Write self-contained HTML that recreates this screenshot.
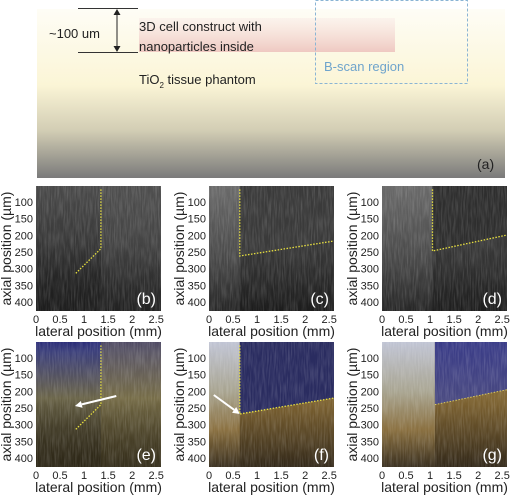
<!DOCTYPE html>
<html><head><meta charset="utf-8"><style>
html,body{margin:0;padding:0;background:#fff;}
svg{display:block;font-family:"Liberation Sans",sans-serif;}
</style></head><body>
<svg id="fig" width="512" height="496" viewBox="0 0 512 496" xmlns="http://www.w3.org/2000/svg">
<defs>
  <linearGradient id="gA" x1="0" y1="0" x2="0" y2="1">
    <stop offset="0" stop-color="#fefdf6"/><stop offset="0.45" stop-color="#fbf5d6"/>
    <stop offset="0.72" stop-color="#d2cdb4"/><stop offset="1" stop-color="#7a7a7a"/>
  </linearGradient>
  <linearGradient id="gPink" x1="0" y1="0" x2="0" y2="1">
    <stop offset="0" stop-color="#f6dede" stop-opacity="0.3"/><stop offset="1" stop-color="#eec6c0" stop-opacity="0.95"/>
  </linearGradient>
  <linearGradient id="gGray" x1="0" y1="0" x2="0" y2="1">
    <stop offset="0" stop-color="#4a4a4a"/><stop offset="0.6" stop-color="#333"/><stop offset="1" stop-color="#1c1c1c"/>
  </linearGradient>
  <linearGradient id="gGrayL" x1="0" y1="0" x2="0" y2="1">
    <stop offset="0" stop-color="#6a6a6a"/><stop offset="0.6" stop-color="#484848"/><stop offset="1" stop-color="#262626"/>
  </linearGradient>
  <linearGradient id="gCol" x1="0" y1="0" x2="0" y2="1">
    <stop offset="0" stop-color="#2a2c78"/><stop offset="0.08" stop-color="#3c407a"/><stop offset="0.45" stop-color="#6a6448"/><stop offset="1" stop-color="#2e2818"/>
  </linearGradient>
  <linearGradient id="gColL" x1="0" y1="0" x2="0" y2="1">
    <stop offset="0" stop-color="#c0c4d4"/><stop offset="0.4" stop-color="#a8a490"/><stop offset="0.7" stop-color="#8a7040"/><stop offset="1" stop-color="#3a3020"/>
  </linearGradient>
  <linearGradient id="gColD" x1="0" y1="0" x2="0" y2="1">
    <stop offset="0" stop-color="#3a3c88"/><stop offset="1" stop-color="#4a4a80"/>
  </linearGradient>
  <linearGradient id="gColB" x1="0" y1="0" x2="0" y2="1">
    <stop offset="0" stop-color="#a88a40"/><stop offset="0.5" stop-color="#7a6030"/><stop offset="1" stop-color="#33291a"/>
  </linearGradient>
  <linearGradient id="gShadeGray" x1="0" y1="0" x2="0" y2="1">
    <stop offset="0" stop-color="#1e1e1e" stop-opacity="0"/><stop offset="1" stop-color="#1e1e1e" stop-opacity="0.8"/>
  </linearGradient>
  <linearGradient id="gShadeCol" x1="0" y1="0" x2="0" y2="1">
    <stop offset="0" stop-color="#2e2818" stop-opacity="0"/><stop offset="1" stop-color="#2e2818" stop-opacity="0.8"/>
  </linearGradient>
  <filter id="noise" x="0" y="0" width="100%" height="100%">
    <feTurbulence type="fractalNoise" baseFrequency="0.7 0.06" numOctaves="2" seed="3"/>
    <feColorMatrix type="matrix" values="0 0 0 0 1  0 0 0 0 1  0 0 0 0 1  0 0 0 0.5 -0.18"/>
  </filter>
</defs>

<!-- Panel (a) -->
<g>
  <rect x="37" y="9" width="468" height="169" fill="url(#gA)"/>
  <rect x="139" y="18" width="256" height="34" fill="url(#gPink)"/>
  <rect x="315.5" y="0.5" width="152" height="83" fill="none" stroke="#8ab4d4" stroke-width="1" stroke-dasharray="3,2"/>
  <line x1="78" y1="8.5" x2="138" y2="8.5" stroke="#333"/>
  <line x1="78" y1="52.5" x2="138" y2="52.5" stroke="#333"/>
  <line x1="117" y1="12" x2="117" y2="49" stroke="#222"/>
  <path d="M113.5,15 L117,9 L120.5,15 Z M113.5,46 L117,52 L120.5,46 Z" fill="#222"/>
  <text x="49" y="38" font-size="13" fill="#222">~100 um</text>
  <text x="139" y="31" font-size="13" fill="#222">3D cell construct with</text>
  <text x="139" y="51" font-size="13" fill="#222">nanoparticles inside</text>
  <text x="139" y="84" font-size="13" fill="#222">TiO<tspan font-size="8" dy="4">2</tspan><tspan dy="-4"> tissue phantom</tspan></text>
  <text x="324" y="71" font-size="13" fill="#6fa4cc">B-scan region</text>
  <text x="477" y="169" font-size="14" fill="#222">(a)</text>
</g>
<g id="panels"></g>

<script>
// Axis data
const xTicks = [0, 0.5, 1, 1.5, 2, 2.5];
const xTickLabels = ["0", "0.5", "1", "1.5", "2", "2.5"];
const yTicks = [100, 150, 200, 250, 300, 350, 400];
const xDomain = [0, 2.6];
const yDomain = [52, 427];
const panelLetters = ["b", "c", "d", "e", "f", "g"];
// Boundary lines (mm, µm) per panel
const boundB = [[1.35, 62], [1.35, 240], [0.82, 315]];
const boundC = [[0.64, 62], [0.64, 262], [2.6, 217]];
const boundD = [[1.05, 62], [1.05, 247], [2.6, 199]];
const boundE = [[1.35, 62], [1.35, 240], [0.82, 315]];
const boundF = [[0.64, 62], [0.64, 268], [2.6, 220]];
const boundG = [[1.1, 62], [1.1, 240], [2.6, 195]];
// Arrows (start, end) in mm, µm
const arrowE = [[1.67, 214], [0.81, 244]];
const arrowF = [[0.1, 211], [0.64, 268]];

const NS = "http://www.w3.org/2000/svg";
const root = document.getElementById("panels");
const panelX = [36, 209, 382];
const panelY = [186, 342];
const PW = 125, PH = 125;

function mk(tag, attrs, parent) {
  const e = document.createElementNS(NS, tag);
  for (const k in attrs) e.setAttribute(k, attrs[k]);
  parent.appendChild(e);
  return e;
}

const specs = [
  {bound: boundB, base: "url(#gGray)", left: null, top: null, line: true},
  {bound: boundC, base: "url(#gGray)", left: "url(#gGrayL)", top: "#3a3a3a", line: true},
  {bound: boundD, base: "url(#gGray)", left: "url(#gGrayL)", top: "#2e2e2e", line: true},
  {bound: boundE, base: "url(#gCol)", left: null, top: null, line: true, arrow: arrowE},
  {bound: boundF, base: "url(#gColB)", left: "url(#gColL)", top: "#2a2c60", line: true, arrow: arrowF},
  {bound: boundG, base: "url(#gColB)", left: "url(#gColL)", top: "url(#gColD)", line: false}
];

specs.forEach((s, i) => {
  const px = panelX[i % 3], py = panelY[Math.floor(i / 3)];
  const sx = v => px + (v - xDomain[0]) / (xDomain[1] - xDomain[0]) * PW;
  const sy = v => py + (v - yDomain[0]) / (yDomain[1] - yDomain[0]) * PH;
  const g = mk("g", {}, root);
  
  
  const cid = "clip" + i;
  const cp = mk("clipPath", {id: cid}, g);
  mk("rect", {x: px, y: py, width: PW, height: PH}, cp);
  const img = mk("g", {"clip-path": "url(#" + cid + ")"}, g);
  
  
  mk("rect", {x: px, y: py, width: PW, height: PH, fill: s.base}, img);
  const b = s.bound;
  if (s.left) {
    const lp = [[px, py], [sx(b[0][0]), py], [sx(b[1][0]), PH + py], [px, py + PH]];
    mk("polygon", {points: lp.map(p => p.join(",")).join(" "), fill: s.left}, img);
  }
  if (s.top) {
    const tp = [[sx(b[0][0]), py], [px + PW, py], [px + PW, sy(b[2][1])], [sx(b[1][0]), sy(b[1][1])]];
    mk("polygon", {points: tp.map(p => p.join(",")).join(" "), fill: s.top}, img);
  }
  if (i === 0 || i === 3) {
    const rp = [[sx(b[0][0]), py], [px + PW, py], [px + PW, py + PH], [sx(b[1][0]), py + PH]];
    mk("polygon", {points: rp.map(p => p.join(",")).join(" "), fill: i === 0 ? "#585858" : "#8a7a48", opacity: 0.4}, img);
    mk("rect", {x: px, y: py + PH * 0.45, width: PW, height: PH * 0.55, fill: i === 0 ? "url(#gShadeGray)" : "url(#gShadeCol)"}, img);
  }
  mk("rect", {x: px, y: py, width: PW, height: PH, filter: "url(#noise)", opacity: 0.6}, img);
  const pts = s.line ? b : b.slice(1);
  const pl = mk("polyline", {points: pts.map(p => sx(p[0]) + "," + sy(p[1])).join(" "),
    fill: "none", stroke: s.line ? "#e8e040" : "#d8c860", "stroke-width": s.line ? 1.3 : 1, "stroke-dasharray": "1.5,1.5"}, g);
  
  
  if (s.arrow) {
    const a = s.arrow;
    const x1 = sx(a[0][0]), y1 = sy(a[0][1]), x2 = sx(a[1][0]), y2 = sy(a[1][1]);
    const ang = Math.atan2(y2 - y1, x2 - x1), L = 7, W = 3.5;
    const bx = x2 - L * Math.cos(ang), by = y2 - L * Math.sin(ang);
    const ag = mk("g", {}, g);
    
    
    mk("line", {x1: x1, y1: y1, x2: bx, y2: by, stroke: "#fff", "stroke-width": 2}, ag);
    mk("polygon", {points: [x2 + "," + y2,
      (bx + W * Math.sin(ang)) + "," + (by - W * Math.cos(ang)),
      (bx - W * Math.sin(ang)) + "," + (by + W * Math.cos(ang))].join(" "), fill: "#fff"}, ag);
  }
  const lab = mk("text", {x: px + PW - 5, y: py + PH - 7, "font-size": 16, fill: "#fff", "text-anchor": "end"}, g);
  lab.textContent = "(" + panelLetters[i] + ")";
  
  
  xTicks.forEach((t, k) => {
    const tx = mk("text", {x: sx(t), y: py + PH + 12, "font-size": 11, fill: "#222", "text-anchor": "middle"}, g);
    tx.textContent = xTickLabels[k];
    
    
  });
  yTicks.forEach(t => {
    const ty = mk("text", {x: px - 3, y: sy(t) + 4, "font-size": 11, fill: "#222", "text-anchor": "end"}, g);
    ty.textContent = String(t);
    
    
  });
  const xl = mk("text", {x: px + PW / 2, y: py + PH + 25, "font-size": 14, fill: "#222", "text-anchor": "middle"}, g);
  xl.textContent = "lateral position (mm)";
  
  
  const yx = px - 25, yy = py + PH / 2;
  const yl = mk("text", {x: yx, y: yy, "font-size": 14, fill: "#222", "text-anchor": "middle",
    transform: "rotate(-90 " + yx + " " + yy + ")"}, g);
  yl.textContent = "axial position (\u00b5m)";
  
  
});
</script>
</svg>
</body></html>
